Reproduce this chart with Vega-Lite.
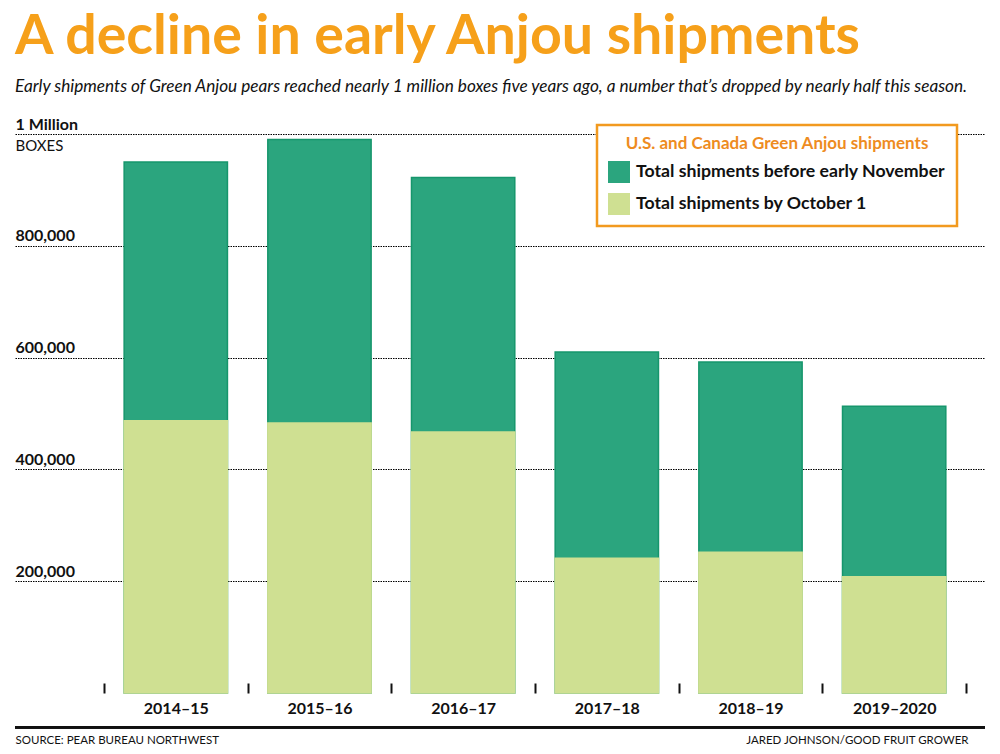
{
  "$schema": "https://vega.github.io/schema/vega-lite/v6.json",
  "width": 970,
  "height": 559,
  "autosize": {"type": "none"},
  "padding": {"left": 15, "top": 134, "right": 15, "bottom": 61},
  "background": "white",
  "title": {
    "text": "A decline in early Anjou shipments",
    "subtitle": "Early shipments of Green Anjou pears reached nearly 1 million boxes five years ago, a number that’s dropped by nearly half this season.",
    "anchor": "start",
    "frame": "group",
    "offset": 21,
    "font": "Lato",
    "fontSize": 55.5,
    "fontWeight": "bold",
    "color": "#F6A01A",
    "subtitleFont": "Lato",
    "subtitleFontSize": 17.2,
    "subtitleFontStyle": "italic",
    "subtitleColor": "#111111",
    "subtitlePadding": 12
  },
  "data": {
    "values": [
      {"season": "2014–15", "series": "Total shipments before early November", "boxes": 950000},
      {"season": "2015–16", "series": "Total shipments before early November", "boxes": 990000},
      {"season": "2016–17", "series": "Total shipments before early November", "boxes": 922000},
      {"season": "2017–18", "series": "Total shipments before early November", "boxes": 610000},
      {"season": "2018–19", "series": "Total shipments before early November", "boxes": 592000},
      {"season": "2019–2020", "series": "Total shipments before early November", "boxes": 513000},
      {"season": "2014–15", "series": "Total shipments by October 1", "boxes": 487000},
      {"season": "2015–16", "series": "Total shipments by October 1", "boxes": 483000},
      {"season": "2016–17", "series": "Total shipments by October 1", "boxes": 467000},
      {"season": "2017–18", "series": "Total shipments by October 1", "boxes": 241000},
      {"season": "2018–19", "series": "Total shipments by October 1", "boxes": 252000},
      {"season": "2019–2020", "series": "Total shipments by October 1", "boxes": 208000}
    ]
  },
  "layer": [
    {
      "mark": {"type": "bar", "strokeWidth": 1.5, "width": {"band": 0.719}},
      "encoding": {
        "x": {
          "field": "season",
          "type": "nominal",
          "sort": null,
          "scale": {"paddingInner": 0, "paddingOuter": 0.3757, "align": 0.824},
          "axis": {
            "title": "SOURCE: PEAR BUREAU NORTHWEST",
            "titleFont": "Lato",
            "titleFontSize": 11.5,
            "titleFontWeight": "normal",
            "titleColor": "#111111",
            "titleAnchor": "start",
            "titleAlign": "left",
            "titleBaseline": "alphabetic",
            "titleX": 0,
            "titleY": 50,
            "domain": false,
            "ticks": true,
            "tickBand": "extent",
            "tickSize": -10,
            "tickWidth": 2,
            "tickColor": "#111111",
            "labelAngle": 0,
            "labelFont": "Lato",
            "labelFontSize": 16,
            "labelFontWeight": "bold",
            "labelColor": "#111111",
            "labelBaseline": "alphabetic",
            "labelPadding": 30
          }
        },
        "y": {
          "field": "boxes",
          "type": "quantitative",
          "stack": null,
          "scale": {"domain": [0, 1000000], "nice": false, "zero": true},
          "axis": {
            "values": [200000, 400000, 600000, 800000, 1000000],
            "labelExpr": "datum.value == 1000000 ? '1 Million' : format(datum.value, ',')",
            "title": "BOXES",
            "titleFont": "Lato",
            "titleFontSize": 15,
            "titleFontWeight": "normal",
            "titleColor": "#111111",
            "titleAngle": 0,
            "titleAlign": "left",
            "titleBaseline": "alphabetic",
            "titleX": 0,
            "titleY": 16,
            "domain": false,
            "ticks": false,
            "grid": true,
            "gridColor": "#000000",
            "gridDash": [1.5, 1],
            "gridWidth": 1.2,
            "labelAlign": "left",
            "labelBaseline": "alphabetic",
            "labelPadding": 0,
            "labelOffset": -5,
            "labelFont": "Lato",
            "labelFontSize": 16,
            "labelFontWeight": "bold",
            "labelColor": "#111111"
          }
        },
        "color": {
          "field": "series",
          "type": "nominal",
          "scale": {
            "domain": ["Total shipments before early November", "Total shipments by October 1"],
            "range": ["#2BA57E", "#CFE092"]
          },
          "legend": {
            "title": "U.S. and Canada Green Anjou shipments",
            "orient": "none",
            "legendX": 582,
            "legendY": -9,
            "direction": "vertical",
            "padding": 11,
            "strokeColor": "#F29A1F",
            "fillColor": "white",
            "titleFont": "Lato",
            "titleFontSize": 17,
            "titleFontWeight": "bold",
            "titleColor": "#EE8C1F",
            "titleAnchor": "middle",
            "titleLimit": 500,
            "titlePadding": 8,
            "symbolType": "square",
            "symbolSize": 484,
            "symbolStrokeWidth": 0,
            "labelFont": "Lato",
            "labelFontSize": 17.7,
            "labelFontWeight": "bold",
            "labelColor": "#111111",
            "labelOffset": 6,
            "labelLimit": 400,
            "rowPadding": 10,
            "encode": {"legend": {"update": {"strokeWidth": {"value": 2.5}}}}
          }
        },
        "stroke": {
          "field": "series",
          "type": "nominal",
          "scale": {
            "domain": ["Total shipments before early November", "Total shipments by October 1"],
            "range": ["#16966C", "#CFE092"]
          },
          "legend": null
        }
      }
    },
    {
      "mark": {"type": "rule", "strokeWidth": 2, "color": "#111111"},
      "encoding": {
        "y": {
          "datum": -61400,
          "type": "quantitative",
          "axis": {
            "orient": "right",
            "title": "JARED JOHNSON/GOOD FRUIT GROWER",
            "titleFont": "Lato",
            "titleFontSize": 11.5,
            "titleFontWeight": "normal",
            "titleColor": "#111111",
            "titleAngle": 0,
            "titleAlign": "right",
            "titleBaseline": "alphabetic",
            "titleX": -17,
            "titleY": 609,
            "labels": false,
            "ticks": false,
            "domain": false,
            "grid": false
          }
        }
      }
    }
  ],
  "resolve": {"axis": {"y": "independent"}},
  "config": {
    "view": {"stroke": null},
    "font": "Lato"
  }
}
